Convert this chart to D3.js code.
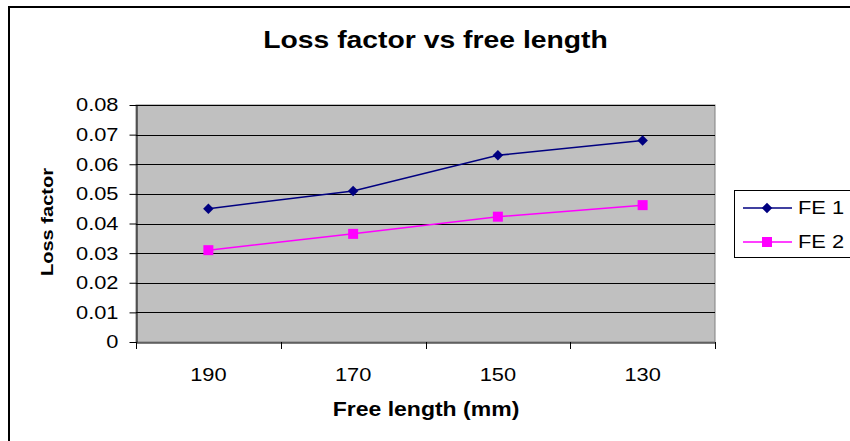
<!DOCTYPE html>
<html><head><meta charset="utf-8">
<script src="https://cdn.jsdelivr.net/npm/d3@7"></script>
<style>body{margin:0;background:#fff}svg{display:block}text{font-family:"Liberation Sans",Arial,sans-serif}</style>
</head><body>
<script>
const categories = ["190","170","150","130"];
const fe1 = [0.045, 0.051, 0.063, 0.068];
const fe2 = [0.031, 0.0365, 0.0423, 0.0462];
const yTicks = [0,0.01,0.02,0.03,0.04,0.05,0.06,0.07,0.08];
const seriesNames = ["FE 1","FE 2"];
const seriesColors = ["#000080","#FF00FF"];

const FF="Liberation Sans, Arial, sans-serif";
const STRETCH=1.18;
const W=850,H=441;
const svg=d3.select("body").append("svg").attr("width",W).attr("height",H);
svg.append("rect").attr("x",9).attr("y",7).attr("width",W+10).attr("height",H+10)
  .attr("fill","#fff").attr("stroke","#000").attr("stroke-width",2);

const L=136,R=715,T=105,B=342;
const x=d3.scaleBand().domain(categories).range([L,R]);
const y=d3.scaleLinear().domain([0,0.08]).range([B,T]);

svg.append("rect").attr("x",L).attr("y",T).attr("width",R-L).attr("height",B-T)
  .attr("fill","#C0C0C0").attr("stroke","#808080").attr("stroke-width",1);

svg.append("g").selectAll("line").data(yTicks.filter(d=>d>0)).join("line")
  .attr("x1",L).attr("x2",R).attr("y1",d=>Math.round(y(d))+0.5).attr("y2",d=>Math.round(y(d))+0.5)
  .attr("stroke","#000").attr("stroke-width",1);

const ya=svg.append("g").attr("transform",`translate(${L+0.5},0)`)
  .call(d3.axisLeft(y).tickValues(yTicks).tickFormat(d=>d===0?"0":d3.format(".2f")(d)).tickSize(7).tickPadding(11).tickSizeOuter(0));
ya.select(".domain").attr("stroke","#000");
ya.selectAll(".tick line").attr("stroke","#000");
ya.selectAll(".tick text").attr("font-size",18.5).attr("fill","#000").attr("font-family",FF);

const xa=svg.append("g").attr("transform",`translate(0,${B+0.5})`)
  .call(d3.axisBottom(x).tickSize(0).tickPadding(0));
xa.select(".domain").attr("stroke","#000");
xa.selectAll(".tick line").remove();
xa.selectAll(".tick text").attr("font-size",18.5).attr("fill","#000").attr("dy",0).attr("y",38.5).attr("font-family",FF);
const bounds=categories.map(c=>x(c)).concat([R]);
svg.append("g").selectAll("line").data(bounds).join("line")
  .attr("x1",d=>Math.round(d)+0.5).attr("x2",d=>Math.round(d)+0.5).attr("y1",B).attr("y2",B+7).attr("stroke","#000");

const cx=(i)=>x(categories[i])+x.bandwidth()/2;
const line=d3.line().x((d,i)=>cx(i)).y(d=>y(d));
[fe1,fe2].forEach((s,k)=>{
  svg.append("path").datum(s).attr("d",line).attr("fill","none").attr("stroke",seriesColors[k]).attr("stroke-width",1.5);
});
svg.append("g").selectAll("path").data(fe1).join("path")
  .attr("d",d3.symbol().type(d3.symbolSquare).size(55))
  .attr("transform",(d,i)=>`translate(${cx(i)},${y(d)}) rotate(45)`)
  .attr("fill",seriesColors[0]);
svg.append("g").selectAll("rect").data(fe2).join("rect")
  .attr("x",(d,i)=>cx(i)-5).attr("y",d=>y(d)-5)
  .attr("width",10).attr("height",10).attr("fill",seriesColors[1]);

svg.append("text").attr("x",435.5).attr("y",47.5).attr("text-anchor","middle").attr("font-family",FF)
  .attr("font-size",24).attr("font-weight","bold").text("Loss factor vs free length");
svg.append("text").attr("transform","translate(52.5,222) rotate(-90)").attr("text-anchor","middle").attr("font-family",FF)
  .attr("font-size",17).attr("font-weight","bold").text("Loss factor");
svg.append("text").attr("x",426).attr("y",415.5).attr("text-anchor","middle").attr("font-family",FF)
  .attr("font-size",19.5).attr("font-weight","bold").text("Free length (mm)");

const lg=svg.append("g");
lg.append("rect").attr("x",734.5).attr("y",190.5).attr("width",130).attr("height",67)
  .attr("fill","#fff").attr("stroke","#000");
seriesNames.forEach((n,k)=>{
  const cy=[208,242][k];
  lg.append("line").attr("x1",743).attr("x2",792).attr("y1",cy).attr("y2",cy).attr("stroke",seriesColors[k]).attr("stroke-width",1.5);
  if(k===0){
    lg.append("path").attr("d",d3.symbol().type(d3.symbolSquare).size(55)).attr("transform",`translate(767,${cy}) rotate(45)`).attr("fill",seriesColors[0]);
  } else {
    lg.append("rect").attr("x",762).attr("y",cy-5).attr("width",10).attr("height",10).attr("fill",seriesColors[1]);
  }
  lg.append("text").attr("x",798).attr("y",cy+6).attr("font-size",18.5).attr("font-family",FF).text(n);
});

// horizontally widen all text to match the reference's stretched Arial
svg.selectAll("text").each(function(){
  const w=this.getComputedTextLength();
  d3.select(this).attr("textLength",w*STRETCH).attr("lengthAdjust","spacingAndGlyphs");
});
</script>
</body></html>
